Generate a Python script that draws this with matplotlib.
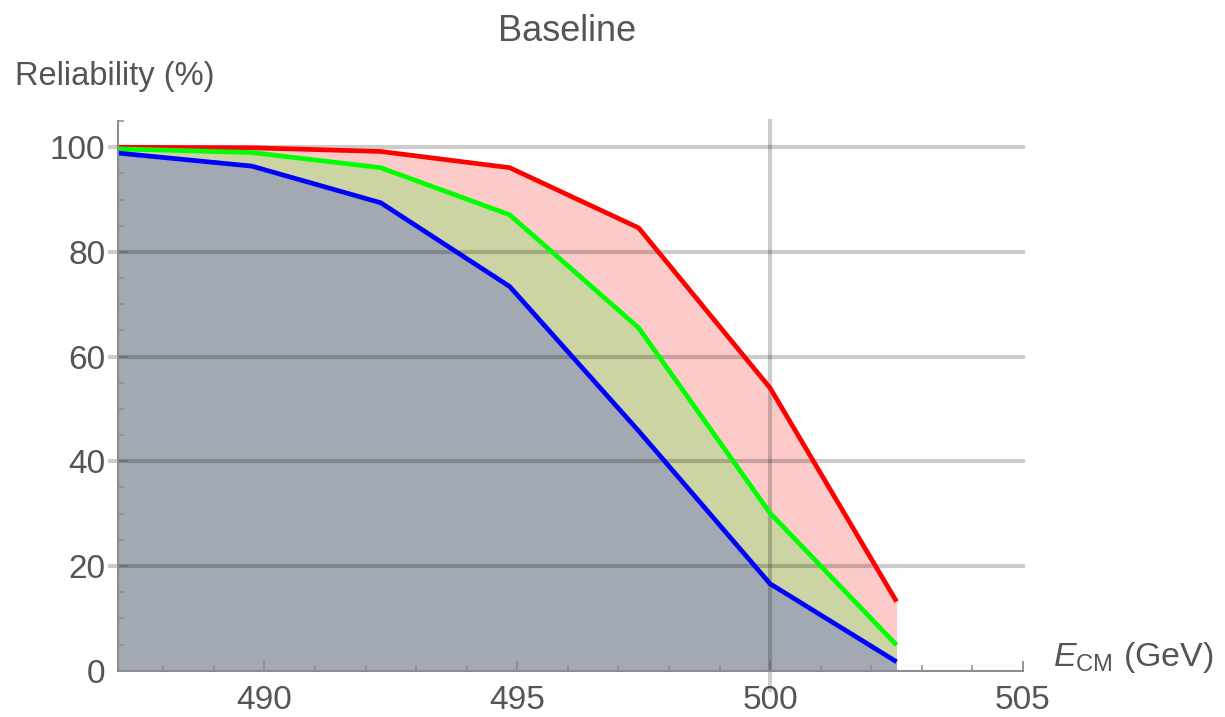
import matplotlib
matplotlib.use("Agg")
import matplotlib.pyplot as plt
from matplotlib.ticker import MultipleLocator

plt.rcParams['font.family'] = ['Liberation Sans', 'DejaVu Sans']
plt.rcParams['mathtext.fontset'] = 'custom'
plt.rcParams['mathtext.it'] = 'Liberation Sans:italic'
plt.rcParams['mathtext.rm'] = 'Liberation Sans'

energy = [487.1, 489.75, 492.3, 494.85, 497.4, 500.0, 502.5]
red_vals = [100.0, 99.9, 99.2, 96.1, 84.6, 54.0, 13.2]
green_vals = [99.7, 99.0, 96.1, 87.1, 65.5, 30.1, 4.9]
blue_vals = [98.9, 96.4, 89.4, 73.4, 45.8, 16.6, 1.7]

title = "Baseline"
ylabel = "Reliability (%)"
xlabel = r"$E_{\mathrm{CM}}$ (GeV)"
xticks = [490, 495, 500, 505]
yticks = [0, 20, 40, 60, 80, 100]

text_color = "#555555"
axis_color = "#8c8c8c"

fig = plt.figure(figsize=(12.25, 7.17), dpi=100)
ax = fig.add_axes([0.0961, 0.0646, 0.739, 0.7665])

ax.fill_between(energy, 0, blue_vals, color="#a2a9b3", lw=0, zorder=1)
ax.fill_between(energy, blue_vals, green_vals, color="#cbd4a2", lw=0, zorder=1)
ax.fill_between(energy, green_vals, red_vals, color="#fdcaca", lw=0, zorder=1)

for yv in yticks[1:]:
    ax.axhline(yv, xmin=-0.008, xmax=1.0, color="black", alpha=0.2, lw=3, zorder=2, clip_on=False)
ax.axvline(500, ymin=-0.035, ymax=1.0, color="black", alpha=0.2, lw=3, zorder=2, clip_on=False)

ax.plot(energy, red_vals, color="#ff0000", lw=3.4, zorder=4, solid_capstyle='butt')
ax.plot(energy, green_vals, color="#00ff00", lw=3.4, zorder=4, solid_capstyle='butt')
ax.plot(energy, blue_vals, color="#0000ff", lw=3.4, zorder=4, solid_capstyle='butt')

ax.set_xlim(487.1, 505)
ax.set_ylim(0, 105)
ax.set_xticks(xticks)
ax.set_yticks(yticks)
ax.xaxis.set_minor_locator(MultipleLocator(1))
ax.yaxis.set_minor_locator(MultipleLocator(5))

for s in ['top', 'right']:
    ax.spines[s].set_visible(False)
for s in ['left', 'bottom']:
    ax.spines[s].set_color(axis_color)
    ax.spines[s].set_linewidth(1.5)
    ax.spines[s].set_zorder(5)

ax.tick_params(axis='both', which='major', direction='in', length=7, width=1.3,
               color=axis_color, labelsize=24, labelcolor=text_color)
ax.tick_params(axis='x', which='major', pad=10)
ax.tick_params(axis='y', which='major', pad=9)
ax.tick_params(axis='both', which='minor', direction='in', length=4, width=1.1,
               color=axis_color)

ax.set_facecolor('white')

fig.text(0.463, 0.956, title, ha='center', va='center', fontsize=26, color=text_color)
fig.text(0.012, 0.893, ylabel, ha='left', va='center', fontsize=23.5, color=text_color)
ax.text(1.033, -0.008, xlabel, transform=ax.transAxes, ha='left', va='bottom',
        fontsize=24.5, color=text_color)

fig.savefig("out.png", dpi=100)
